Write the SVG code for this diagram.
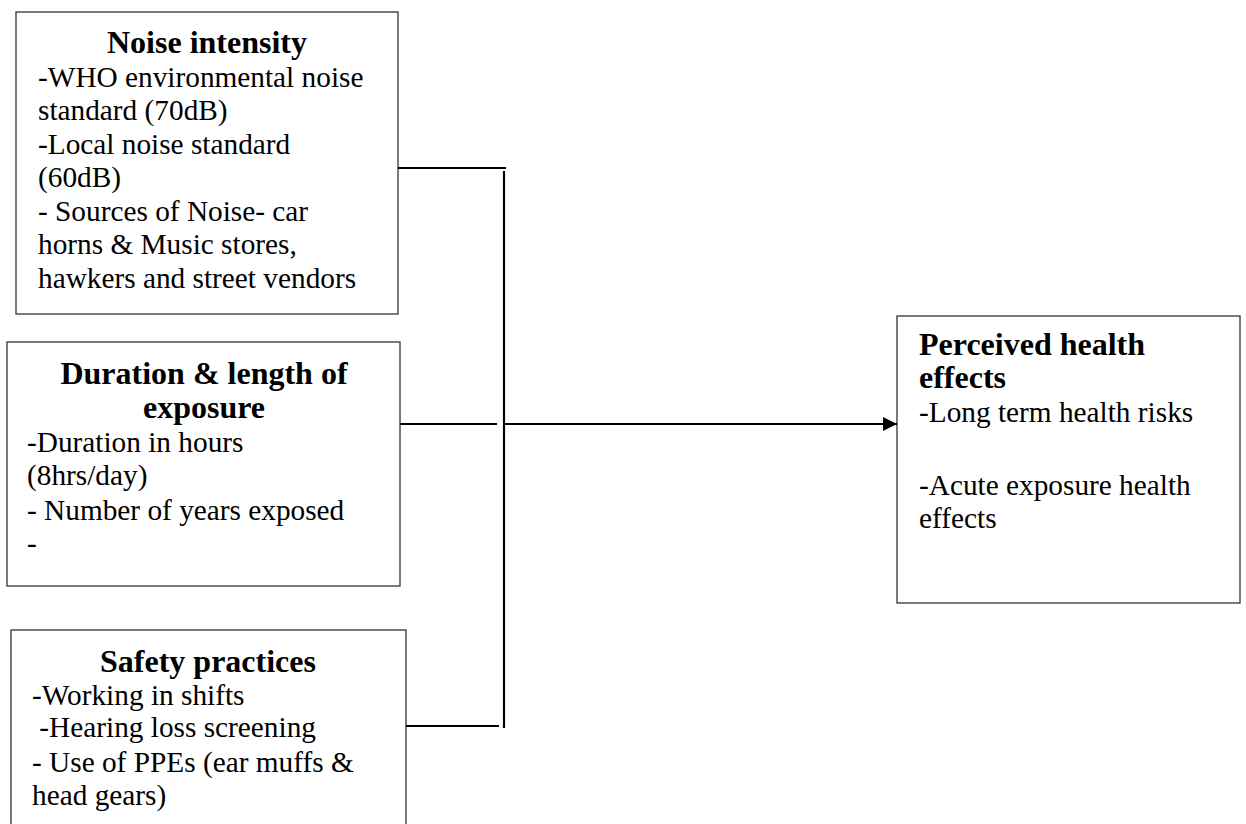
<svg xmlns="http://www.w3.org/2000/svg" width="1246" height="824" viewBox="0 0 1246 824">
<defs>
<style>
.box{fill:#fff;stroke:#333;stroke-width:1.3}
.t{font-family:"Liberation Serif","Times New Roman",serif;font-size:29.3px;fill:#000}
.b{font-weight:bold;font-size:32px}
.c{text-anchor:middle}
.ln{stroke:#000;stroke-width:2.2;fill:none}
</style>
<marker id="ah" markerWidth="14" markerHeight="14" refX="14" refY="7" orient="auto" markerUnits="userSpaceOnUse">
<path d="M0,0 L14,7 L0,14 Z" fill="#000"/>
</marker>
</defs>
<rect width="1246" height="824" fill="#fff"/>
<g id="noise-intensity">
<rect class="box" x="16" y="12" width="382" height="302"/>
<text class="t b c" x="207" y="53">Noise intensity</text>
<text class="t" x="38" y="87">-WHO environmental noise</text>
<text class="t" x="38" y="120">standard (70dB)</text>
<text class="t" x="38" y="154">-Local noise standard</text>
<text class="t" x="38" y="187">(60dB)</text>
<text class="t" x="38" y="221">- Sources of Noise- car</text>
<text class="t" x="38" y="254">horns &amp; Music stores,</text>
<text class="t" x="38" y="288">hawkers and street vendors</text>
</g>
<g id="duration">
<rect class="box" x="7" y="342" width="393" height="244"/>
<text class="t b c" x="204" y="384">Duration &amp; length of</text>
<text class="t b c" x="204" y="418">exposure</text>
<text class="t" x="27" y="452">-Duration in hours</text>
<text class="t" x="27" y="485">(8hrs/day)</text>
<text class="t" x="27" y="520">- Number of years exposed</text>
<text class="t" x="27" y="553">-</text>
</g>
<g id="safety">
<rect class="box" x="11" y="630" width="395" height="210"/>
<text class="t b c" x="208" y="672">Safety practices</text>
<text class="t" x="32" y="705">-Working in shifts</text>
<text class="t" x="32" y="737" xml:space="preserve"> -Hearing loss screening</text>
<text class="t" x="32" y="772">- Use of PPEs (ear muffs &amp;</text>
<text class="t" x="32" y="805">head gears)</text>
</g>
<g id="health-effects">
<rect class="box" x="897" y="316" width="343" height="287"/>
<text class="t b" x="919" y="355">Perceived health</text>
<text class="t b" x="919" y="388">effects</text>
<text class="t" x="919" y="422">-Long term health risks</text>
<text class="t" x="919" y="495">-Acute exposure health</text>
<text class="t" x="919" y="528">effects</text>
</g>
<g id="connectors">
<line class="ln" x1="398" y1="168" x2="506" y2="168"/>
<line class="ln" x1="400" y1="424" x2="497" y2="424"/>
<line class="ln" x1="406" y1="726" x2="499" y2="726"/>
<line class="ln" x1="504" y1="171" x2="504" y2="728"/>
<line class="ln" x1="505" y1="424" x2="897" y2="424" marker-end="url(#ah)"/>
</g>
</svg>
